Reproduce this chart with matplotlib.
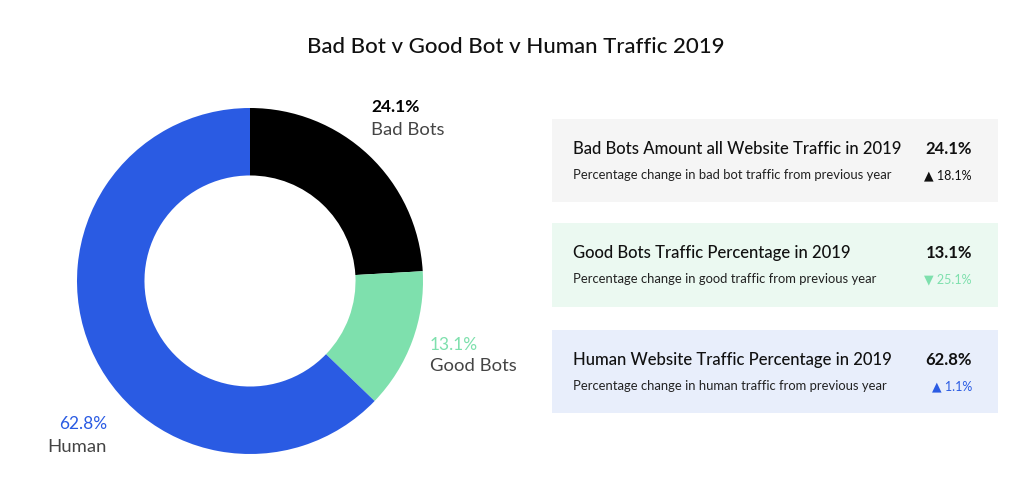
import matplotlib.pyplot as plt
from matplotlib.patches import Rectangle

plt.rcParams['font.family'] = ['Lato', 'DejaVu Sans']

categories = ['Bad Bots', 'Good Bots', 'Human']
shares = [24.1, 13.1, 62.8]
changes = [18.1, -25.1, 1.1]
panel_titles = ['Bad Bots Amount all Website Traffic in 2019',
                'Good Bots Traffic Percentage in 2019',
                'Human Website Traffic Percentage in 2019']
panel_subtitles = ['Percentage change in bad bot traffic from previous year',
                   'Percentage change in good traffic from previous year',
                   'Percentage change in human traffic from previous year']
title = 'Bad Bot v Good Bot v Human Traffic 2019'

colors = ['#000000', '#7ee0ad', '#2a5be3']
change_colors = ['#111111', '#7ee0ad', '#2a5be3']
panel_bg = ['#f5f5f5', '#ebf9f1', '#e8eefb']

W, H = 1024, 481
fig = plt.figure(figsize=(W / 100, H / 100), dpi=100)


def fx(px):
    return px / W


def fy(py):
    return 1 - py / H


fig.text(fx(516), fy(47), title, ha='center', va='center', fontsize=16,
         color='#111111', fontweight='medium')

# donut
cx, cy, r = 250, 282, 173
ax = fig.add_axes([fx(cx - r), fy(cy + r), 2 * r / W, 2 * r / H])
ax.pie(shares, colors=colors, startangle=90, counterclock=False, radius=1,
       wedgeprops=dict(width=0.39, linewidth=0))
ax.set_xlim(-1, 1)
ax.set_ylim(-1, 1)
ax.set_aspect('equal')
ax.axis('off')

# labels next to the ring
lab_pos = [(371, 107, 130, 'left'), (430, 345, 366, 'left'), (107, 424, 447, 'right')]
for i, (x, y1, y2, ha) in enumerate(lab_pos):
    bold = i == 0
    fig.text(fx(x), fy(y1), f'{shares[i]}%', ha=ha, va='center', fontsize=12.5,
             color=colors[i], fontweight='bold' if bold else 'normal')
    fig.text(fx(x), fy(y2), categories[i], ha=ha, va='center', fontsize=13.3,
             color='#444444')

# stat panels
boxes = [(120, 203), (224, 308), (331, 414)]
for i, (top, bot) in enumerate(boxes):
    fig.patches.append(Rectangle((fx(552), fy(bot)), fx(998) - fx(552), fy(top) - fy(bot),
                                 transform=fig.transFigure, facecolor=panel_bg[i],
                                 edgecolor='none', zorder=0))
    ty = top + 29
    sy = top + 55
    fig.text(fx(573), fy(ty), panel_titles[i], ha='left', va='center', fontsize=12,
             color='#111111', fontweight='medium')
    fig.text(fx(972), fy(ty), f'{shares[i]}%', ha='right', va='center', fontsize=12,
             color='#111111', fontweight='bold')
    fig.text(fx(573), fy(sy), panel_subtitles[i], ha='left', va='center', fontsize=9.4,
             color='#222222')
    arrow = '\u25b2' if changes[i] > 0 else '\u25bc'
    fig.text(fx(972), fy(sy), f'{arrow} {abs(changes[i])}%', ha='right', va='center',
             fontsize=9, color=change_colors[i])

fig.savefig('out.png', dpi=100, facecolor='white')
